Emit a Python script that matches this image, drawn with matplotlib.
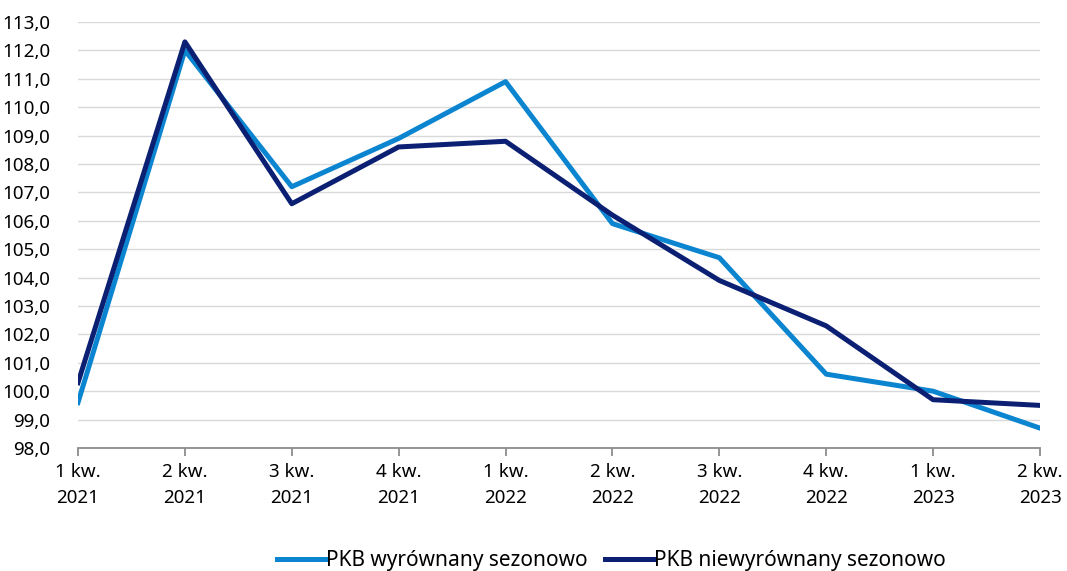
import numpy as np
import matplotlib.pyplot as plt
from matplotlib import rcParams

rcParams['font.family'] = ['Noto Sans', 'DejaVu Sans']

# Data
quarters = ['1 kw.\n2021', '2 kw.\n2021', '3 kw.\n2021', '4 kw.\n2021', '1 kw.\n2022',
            '2 kw.\n2022', '3 kw.\n2022', '4 kw.\n2022', '1 kw.\n2023', '2 kw.\n2023']
pkb_sa = [99.6, 112.0, 107.2, 108.9, 110.9, 105.9, 104.7, 100.6, 100.0, 98.7]
pkb_nsa = [100.3, 112.3, 106.6, 108.6, 108.8, 106.2, 103.9, 102.3, 99.7, 99.5]

fig = plt.figure(figsize=(10.67, 5.71), dpi=100)
ax = fig.add_axes([0.0731, 0.2154, 0.9016, 0.7461])

x = np.arange(len(quarters))
ax.plot(x, pkb_sa, color='#0C85D1', linewidth=3.6, label='PKB wyrównany sezonowo')
ax.plot(x, pkb_nsa, color='#0B1F73', linewidth=3.6, label='PKB niewyrównany sezonowo')

ax.set_xlim(0, len(quarters) - 1)
ax.set_ylim(98, 113)
ax.set_yticks(np.arange(98, 113.5, 1))
ax.set_yticklabels([f'{v:.1f}'.replace('.', ',') for v in np.arange(98, 113.5, 1)])
ax.set_xticks(x)
ax.set_xticklabels(quarters, linespacing=1.55)

ax.grid(axis='y', color='#D9D9D9', linewidth=1)
ax.set_axisbelow(True)
for s in ['left', 'right', 'top']:
    ax.spines[s].set_visible(False)
ax.spines['bottom'].set_color('#8C8C8C')
ax.spines['bottom'].set_linewidth(1.3)
ax.tick_params(axis='x', colors='#8C8C8C', length=6, width=1.3, labelcolor='black', labelsize=13.5, pad=5)
ax.tick_params(axis='y', length=0, labelsize=13.5, pad=20)

ax.legend(loc='center', bbox_to_anchor=(0.573, 0.018), bbox_transform=fig.transFigure,
          ncol=2, frameon=False, fontsize=15, handlelength=2.3, handletextpad=0.05,
          columnspacing=0.8, borderpad=0)

plt.savefig('out.png', dpi=100)
